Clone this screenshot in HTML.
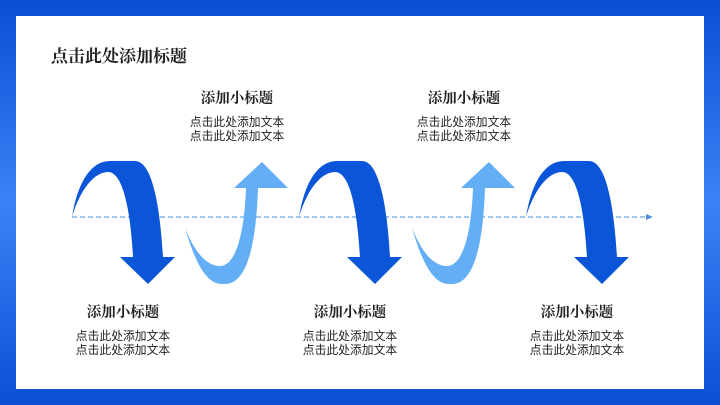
<!DOCTYPE html>
<html><head><meta charset="utf-8"><style>
body{margin:0;width:720px;height:405px;overflow:hidden;background:#1a5fe0;position:relative;font-family:"Liberation Serif","Noto Serif CJK SC",serif}
.frame{position:absolute;left:0;top:0;width:720px;height:405px;background:linear-gradient(180deg,#0a4fd6,#3b82f6 50%,#0a4fd6)}
.in{position:absolute;left:16px;top:16px;width:688px;height:373px;background:#fff}
.t{position:absolute;font-weight:bold;font-size:17px;color:#222;left:51px;top:42px}
.b{position:absolute;width:140px;text-align:center;color:#222}
.b h{display:block;font-weight:bold;font-size:14.5px;line-height:18px}
.b p{margin:7px 0 0;font-size:11.8px;line-height:14px;font-family:"Liberation Sans","Noto Sans CJK SC",sans-serif}
</style></head><body>
<div class="frame"></div><div class="in"></div>
<div class="t">点击此处添加标题</div>
<svg width="720" height="405" style="position:absolute;left:0;top:0">
<defs>
<g id="d"><path d="M72,217 C78,180 92,161 110,161 L135,161 C152,161 160,205 163,257 L175,257 L148,284 L120,257 L133,257 C130,205 122,172 108,172 C94,172 80,190 72,217 Z" fill="#0b55d9"/></g>
<g id="l"><path d="M185,228 C195,262 206,284 222,284 L225,284 C246,284 256,248 258,188 L288,188 L262,162 L234,188 L246,188 C244,240 234,268 218,266 C204,264 194,250 185,228 Z" fill="#64aef5"/></g>
</defs>
<line x1="72" y1="217" x2="648" y2="217" stroke="#4a8fd8" stroke-width="1" stroke-dasharray="5,3"/>
<path d="M646,214 L653,217 L646,220Z" fill="#4a8fd8"/>
<use href="#d"/><use href="#d" x="227"/><use href="#d" x="454"/>
<use href="#l"/><use href="#l" x="227"/>
</svg>
<div class="b" style="left:167px;top:90px"><h>添加小标题</h><p>点击此处添加文本<br>点击此处添加文本</p></div>
<div class="b" style="left:394px;top:90px"><h>添加小标题</h><p>点击此处添加文本<br>点击此处添加文本</p></div>
<div class="b" style="left:53px;top:304px"><h>添加小标题</h><p>点击此处添加文本<br>点击此处添加文本</p></div>
<div class="b" style="left:280px;top:304px"><h>添加小标题</h><p>点击此处添加文本<br>点击此处添加文本</p></div>
<div class="b" style="left:507px;top:304px"><h>添加小标题</h><p>点击此处添加文本<br>点击此处添加文本</p></div>
</body></html>
